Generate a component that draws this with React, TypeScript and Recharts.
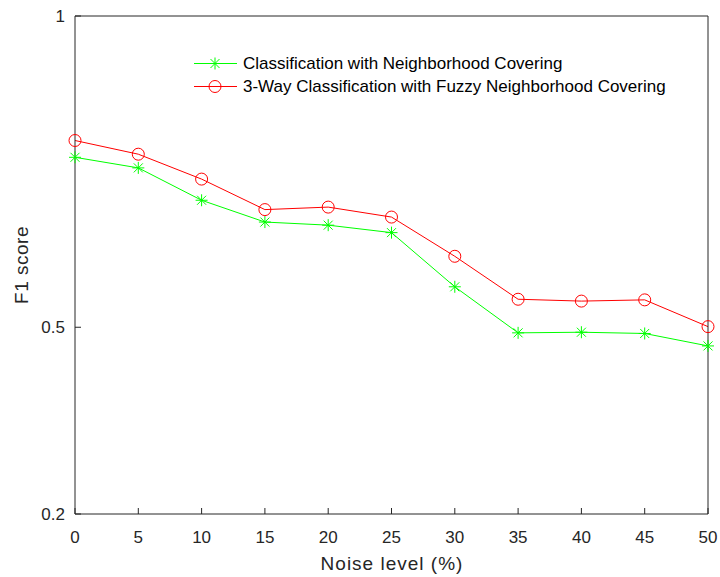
import { Legend, Line, LineChart, XAxis, YAxis } from "recharts";

const NOISE = [0, 5, 10, 15, 20, 25, 30, 35, 40, 45, 50];
const NC_F1 = [0.773, 0.756, 0.704, 0.669, 0.664, 0.652, 0.565, 0.491, 0.492, 0.49, 0.47];
const FNC_F1 = [0.8, 0.778, 0.738, 0.689, 0.693, 0.677, 0.614, 0.545, 0.542, 0.544, 0.501];
const X_TICKS = [0, 5, 10, 15, 20, 25, 30, 35, 40, 45, 50];
const Y_TICKS = [0.2, 0.5, 1];

const SERIES = [
  { key: "nc", label: "Classification with Neighborhood Covering", color: "#00ff00", marker: "star" },
  { key: "fnc", label: "3-Way Classification with Fuzzy Neighborhood Covering", color: "#ff0000", marker: "circle" },
] as const;

const FONT = '"Liberation Sans", Arial, Helvetica, sans-serif';
const AXIS = "#262626";

const data = NOISE.map((n, i) => ({ noise: n, nc: NC_F1[i], fnc: FNC_F1[i] }));

function Star({ cx, cy, color }: { cx: number; cy: number; color: string }) {
  const r = 6;
  const d = 4.5;
  return (
    <g stroke={color} strokeWidth={1}>
      <line x1={cx - r} y1={cy} x2={cx + r} y2={cy} />
      <line x1={cx} y1={cy - r} x2={cx} y2={cy + r} />
      <line x1={cx - d} y1={cy - d} x2={cx + d} y2={cy + d} />
      <line x1={cx - d} y1={cy + d} x2={cx + d} y2={cy - d} />
    </g>
  );
}

function Ring({ cx, cy, color }: { cx: number; cy: number; color: string }) {
  return <circle cx={cx} cy={cy} r={6} fill="none" stroke={color} strokeWidth={1} />;
}

function marker(kind: string, color: string) {
  return (p: any) =>
    p.cx == null ? null : kind === "star" ? (
      <Star key={p.index} cx={p.cx} cy={p.cy} color={color} />
    ) : (
      <Ring key={p.index} cx={p.cx} cy={p.cy} color={color} />
    );
}

function LegendBox() {
  return (
    <div style={{ fontFamily: FONT, fontSize: 17, color: "#000" }}>
      {SERIES.map((s) => (
        <div key={s.key} style={{ display: "flex", alignItems: "center", height: 23, lineHeight: "23px" }}>
          <svg width={44} height={23} style={{ display: "block" }}>
            <line x1={0} y1={11.5} x2={43} y2={11.5} stroke={s.color} strokeWidth={1} />
            {s.marker === "star" ? <Star cx={21} cy={11.5} color={s.color} /> : <Ring cx={21} cy={11.5} color={s.color} />}
          </svg>
          <span style={{ marginLeft: 5, whiteSpace: "nowrap" }}>{s.label}</span>
        </div>
      ))}
    </div>
  );
}

export default function App() {
  const tickStyle = { fontFamily: FONT, fontSize: 17, fill: AXIS };
  return (
    <div style={{ position: "absolute", left: 0, top: 0, background: "#fff" }}>
      <LineChart width={720} height={577} data={data} margin={{ top: 15, right: 11, left: 0, bottom: 0 }}>
        <XAxis
          dataKey="noise"
          type="number"
          domain={[0, 50]}
          ticks={X_TICKS}
          height={63}
          stroke={AXIS}
          tickSize={-6}
          tickMargin={23}
          tick={tickStyle}
          label={{
            content: () => (
              <text x={392} y={570} textAnchor="middle" fontFamily={FONT} fontSize={19} letterSpacing={1} fill={AXIS}>
                Noise level (%)
              </text>
            ),
          }}
        />
        <XAxis
          xAxisId="top"
          orientation="top"
          dataKey="noise"
          type="number"
          domain={[0, 50]}
          ticks={X_TICKS}
          height={1}
          stroke={AXIS}
          tickSize={-6}
          tick={false}
        />
        <YAxis
          type="number"
          domain={[0.2, 1]}
          ticks={Y_TICKS}
          width={75}
          stroke={AXIS}
          tickSize={-6}
          tickMargin={16}
          tick={tickStyle}
          label={{
            content: () => (
              <text
                x={28}
                y={265}
                textAnchor="middle"
                transform="rotate(-90 28 265)"
                fontFamily={FONT}
                fontSize={19}
                letterSpacing={0.5}
                fill={AXIS}
              >
                F1 score
              </text>
            ),
          }}
        />
        <YAxis
          yAxisId="right"
          orientation="right"
          type="number"
          domain={[0.2, 1]}
          ticks={Y_TICKS}
          width={1}
          stroke={AXIS}
          tickSize={-6}
          tick={false}
        />
        <Legend
          verticalAlign="middle"
          align="center"
          layout="horizontal"
          content={() => <LegendBox />}
          wrapperStyle={{ left: 194, top: 52, width: "auto" }}
        />
        {SERIES.map((s, i) => (
          <Line
            key={s.key}
            dataKey={s.key}
            name={s.label}
            xAxisId={i === 1 ? "top" : 0}
            yAxisId={i === 1 ? "right" : 0}
            stroke={s.color}
            strokeWidth={1}
            dot={marker(s.marker, s.color)}
            activeDot={false}
            isAnimationActive={false}
          />
        ))}
      </LineChart>
    </div>
  );
}
